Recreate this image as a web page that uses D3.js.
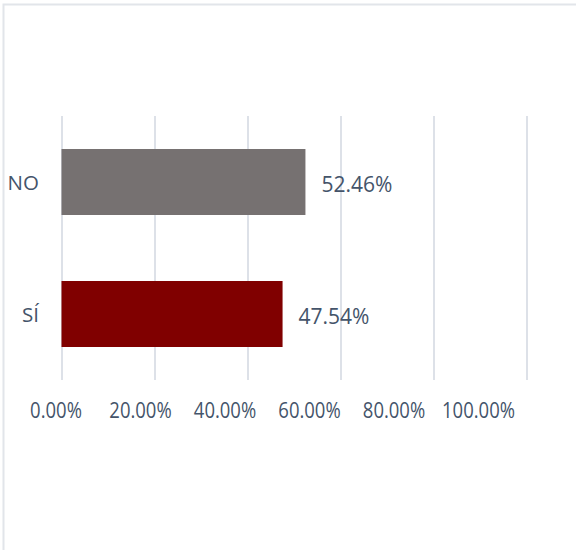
<!DOCTYPE html>
<html>
<head>
<meta charset="utf-8">
<script src="https://cdn.jsdelivr.net/npm/d3@7"></script>
<style>
  html, body { margin: 0; padding: 0; background: #ffffff; }
  svg { display: block; }
  text { font-family: "Open Sans", "Noto Sans", sans-serif; fill: #44546A; }
</style>
</head>
<body>
<svg id="chart" width="576" height="550"></svg>
<script>
const categories = ["NO", "SÍ"];
const values = [0.5246, 0.4754];
const valueLabels = ["52.46%", "47.54%"];
const tickValues = [0, 0.2, 0.4, 0.6, 0.8, 1.0];
const tickLabels = ["0.00%", "20.00%", "40.00%", "60.00%", "80.00%", "100.00%"];
const barColors = ["#767171", "#800000"];

const svg = d3.select("#chart");

// outer frame (cut off at right/bottom)
svg.append("rect")
  .attr("x", 3.5).attr("y", 4.5)
  .attr("width", 600).attr("height", 600)
  .attr("fill", "none")
  .attr("stroke", "#e2e5ea")
  .attr("stroke-width", 2);

const x = d3.scaleLinear().domain([0, 1]).range([61.5, 526.5]);
const xLabel = d3.scaleLinear().domain([0, 1]).range([55.5, 478]);
const y = d3.scaleBand().domain(categories).range([116, 380])
  .paddingInner(0.5).paddingOuter(0.25);

// gridlines
svg.append("g")
  .attr("transform", "translate(0,380)")
  .call(d3.axisBottom(x).tickValues(tickValues).tickSize(-264).tickFormat(""))
  .call(g => g.select(".domain").remove())
  .call(g => g.selectAll(".tick line").attr("stroke", "#dde1e8").attr("stroke-width", 2));

// tick labels
svg.append("g")
  .attr("transform", "translate(0,403)")
  .call(d3.axisBottom(xLabel).tickValues(tickValues).tickSize(0)
    .tickFormat((d, i) => tickLabels[i]))
  .call(g => g.select(".domain").remove())
  .call(g => g.selectAll(".tick text")
    .attr("dy", "0.71em")
    .attr("y", 0)
    .attr("transform", "scale(0.88,1)")
    .style("font-size", "21px")
    .style("fill", "#44546A"));

// bars
svg.append("g").selectAll("rect")
  .data(categories)
  .join("rect")
  .attr("x", x(0))
  .attr("y", d => y(d))
  .attr("width", (d, i) => x(values[i]) - x(0))
  .attr("height", y.bandwidth())
  .attr("fill", (d, i) => barColors[i]);

// category labels
svg.append("g")
  .attr("transform", "translate(39,0)")
  .call(d3.axisLeft(y).tickSize(0).tickPadding(0))
  .call(g => g.select(".domain").remove())
  .call(g => g.selectAll(".tick text")
    .style("font-size", "20.5px")
    .style("fill", "#44546A")
    .attr("dy", "0.38em"));

// value labels
svg.append("g").selectAll("text")
  .data(categories)
  .join("text")
  .attr("x", (d, i) => x(values[i]) + 16)
  .attr("y", d => y(d) + y.bandwidth() / 2 + 2.5)
  .attr("dy", "0.36em")
  .style("font-size", "21px")
  .text((d, i) => valueLabels[i]);
</script>
</body>
</html>
